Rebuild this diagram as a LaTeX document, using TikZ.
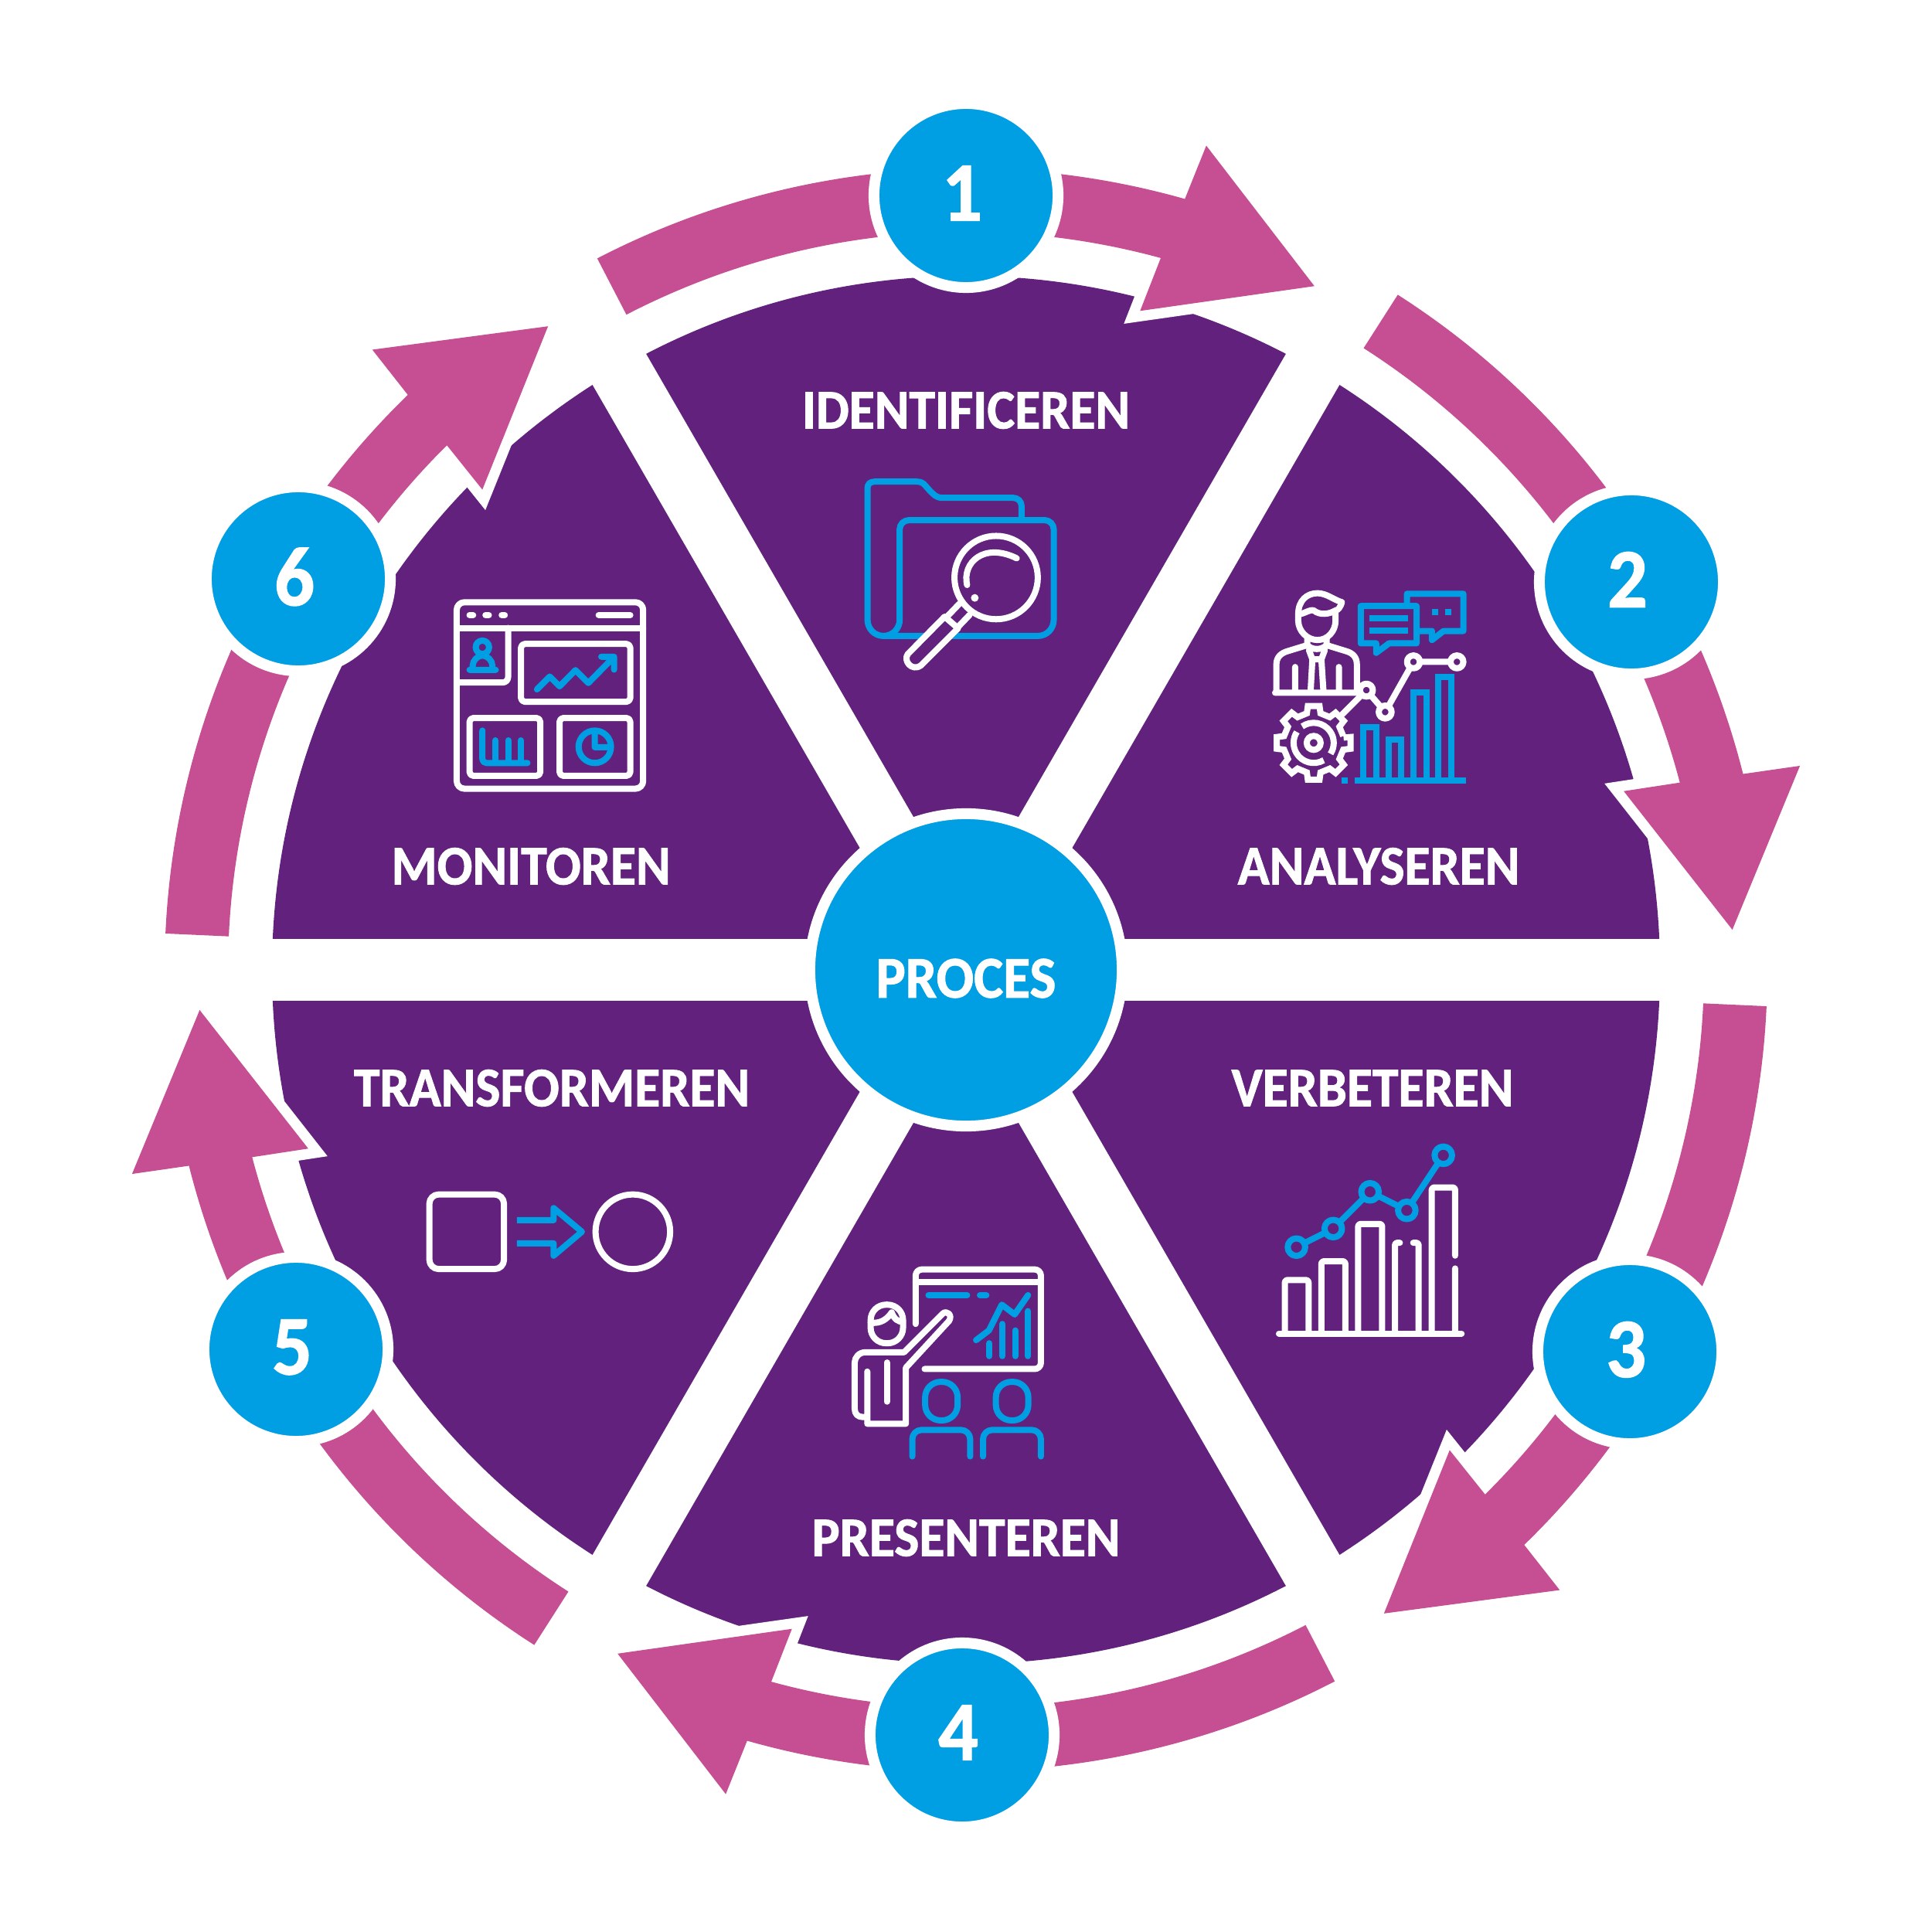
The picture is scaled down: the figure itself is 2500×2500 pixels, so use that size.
\documentclass[tikz,border=0pt]{standalone}
\usepackage{fontspec}
\setmainfont{Carlito}[BoldFeatures={FakeBold=1.3,FakeStretch=0.94}]
\usepackage{tikz}
\usetikzlibrary{calc}
\definecolor{ringpurple}{HTML}{61217C}
\definecolor{dotblue}{HTML}{009EE2}
\definecolor{arrowpink}{HTML}{C64F93}
\newcommand{\stepnum}[1]{\raisebox{1.7pt}{#1}\kern 2.8pt}
\tikzset{x=0.01cm, y=-0.01cm, font=\bfseries}
\tikzstyle{stepdot} = [draw=white, fill=dotblue, circle, line width=0.14cm, minimum size=2.38cm, inner sep=0pt, text=white, font=\fontsize{31}{31}\bfseries\selectfont]
\tikzstyle{hubdot} = [draw=white, fill=dotblue, circle, line width=0.14cm, minimum size=4.04cm, inner sep=0pt]
\tikzstyle{phase} = [text=white, inner sep=0pt, font=\fontsize{20.5}{20.5}\bfseries\selectfont]
\tikzstyle{band} = [white, line width=0.8cm]
\tikzstyle{bigarrow} = [draw=white, line width=0.27cm, miter limit=10, postaction={fill=arrowpink}]
\tikzstyle{zoomed} = [x=0.00333cm, y=-0.00333cm, line width=0.08cm, line cap=round, line join=round]
\tikzstyle{wline} = [draw=white]
\tikzstyle{bline} = [draw=dotblue]
\tikzstyle{knot} = [fill=ringpurple]
\begin{document}
\begin{tikzpicture}
    \useasboundingbox (0,0) rectangle (2500,2500);
    \fill [white] (0,0) rectangle (2500,2500);
    \coordinate (mid) at (1250,1255);
    \fill [ringpurple] (mid) circle [radius=898];
    \foreach \a in {0,60,120} {
        \draw [band] ($(mid)+(\a:910)$) -- ($(mid)+(\a+180:910)$);
    }

    \foreach \a in {0,-60,...,-300} {
        \begin{scope}[shift={(mid)}, x=0.01cm, y=0.01cm, rotate=\a]
            \path [bigarrow] (117.4:1037) arc [start angle=117.4, end angle=74.15, radius=1037] -- (73.75:1111) -- (63:993) -- (75.2:882) -- (74.7:955) arc [start angle=74.7, end angle=117.4, radius=955] -- cycle;
        \end{scope}
    }

    \node [stepdot] (step1) at (1250,253) {\stepnum{1}};
    \node [stepdot] (step2) at (2111,753) {\stepnum{2}};
    \node [stepdot] (step3) at (2109,1749) {\stepnum{3}};
    \node [stepdot] (step4) at (1245,2245) {\stepnum{4}};
    \node [stepdot] (step5) at (383,1746) {\stepnum{5}};
    \node [stepdot] (step6) at (386,749) {\stepnum{6}};
    \node [hubdot] (hub) at (mid) {};

    \node [phase, scale=1.06] (process) at (1250,1266) {PROCES};
    \node [phase] (identify) at (1250,531) {IDENTIFICEREN};
    \node [phase] (analyse) at (1784,1121) {ANALYSEREN};
    \node [phase] (improve) at (1776,1408) {VERBETEREN};
    \node [phase] (present) at (1250,1990) {PRESENTEREN};
    \node [phase] (transform) at (714,1408) {TRANSFORMEREN};
    \node [phase] (monitor) at (687,1121) {MONITOREN};

    % folder
    \begin{scope}[shift={(1060,560)}, zoomed]
        \draw [bline] (787,340) -- (787,285) .. controls (787,265) and (770,253) .. (755,253) -- (480,253) .. controls (455,253) and (445,240) .. (430,225) -- (415,208) .. controls (405,195) and (395,190) .. (380,190) -- (215,190) .. controls (198,190) and (188,200) .. (188,215) -- (188,727) .. controls (188,762) and (215,790) .. (250,790) -- (850,790) .. controls (885,790) and (912,762) .. (912,727) -- (912,375) .. controls (912,355) and (895,340) .. (878,340) -- (348,340) .. controls (330,340) and (313,355) .. (313,375) -- (313,727) .. controls (313,762) and (285,790) .. (250,790);
        \draw [wline, knot] (488,715) -- (345,860) .. controls (325,885) and (360,930) .. (395,905) -- (540,760) -- cycle;
        \draw [wline] (545,665) -- (500,712) (585,708) -- (540,755);
        \draw [wline] (688,563) circle [radius=162];
        \draw [wline] (575,592) .. controls (555,505) and (640,425) .. (768,488);
        \fill [white] (605,642) circle [radius=15];
    \end{scope}

    % analyst
    \begin{scope}[shift={(1620,720)}, zoomed]
        \draw [wline] (180,225) -- (180,250) .. controls (180,290) and (215,325) .. (255,325) .. controls (295,325) and (325,290) .. (325,250) -- (325,210) .. controls (335,210) and (345,195) .. (350,178) .. controls (320,170) and (290,143) .. (255,143) .. controls (215,143) and (180,170) .. (180,225) .. controls (200,225) and (225,205) .. (240,210) .. controls (265,230) and (300,225) .. (325,210);
        \draw [wline] (95,530) -- (95,420) .. controls (95,390) and (115,375) .. (140,368) -- (215,345) -- (215,315) (408,530) -- (408,420) .. controls (408,390) and (390,375) .. (365,368) -- (290,345) -- (290,315) (215,345) .. controls (235,365) and (270,365) .. (290,345) (90,530) -- (420,530) (168,430) -- (168,525) (338,430) -- (338,525) (222,365) -- (235,400) -- (228,525) (283,365) -- (270,400) -- (278,525) (235,400) -- (270,400);
        \draw [wline] (350,615) -- (445,520) -- (518,605) -- (628,410) -- (797,410);
        \foreach \p in {(445,520),(518,605),(628,410),(797,410)} {
            \draw [wline, knot] \p circle [radius=25];
        }
        \begin{scope}[shift={(240,725)}, line cap=butt, line join=miter]
            \draw [wline] (-10:118) \foreach \t in {0,45,...,315} { -- (\t-9:145) -- (\t+9:145) -- (\t+13:118) -- (\t+32:118) };
            \draw [wline] (-125:78) arc [start angle=-125, end angle=33, radius=78];
            \draw [wline] (60:78) arc [start angle=60, end angle=213, radius=78];
            \draw [wline] (0,0) circle [radius=27];
        \end{scope}
        \begin{scope}[line cap=butt, line join=miter]
            \draw [bline, line join=round] (603,185) -- (603,145) -- (822,145) -- (822,290) -- (745,290) -- (700,325) -- (700,290) -- (645,290);
            \draw [bline, line join=round] (423,193) -- (640,193) -- (640,338) -- (533,338) -- (483,375) -- (483,338) -- (423,338) -- cycle;
            \draw [bline] (458,241) -- (606,241) (458,289) -- (606,289) (700,217) -- (724,217) (750,217) -- (774,217);
            \draw [bline] (400,870) -- (833,870) (349,870) -- (374,870);
            \draw [bline] (434,870) -- (434,664) -- (484,664) -- (484,870) (531,870) -- (531,712) -- (581,712) -- (581,870) (628,870) -- (628,530) -- (678,530) -- (678,870) (724,870) -- (724,470) -- (774,470) -- (774,870);
        \end{scope}
    \end{scope}

    % dashboard
    \begin{scope}[shift={(560,750)}, zoomed]
        \draw [wline, rounded corners=0.1cm] (93,88) rectangle (818,813);
        \draw [wline] (93,188) -- (818,188) (143,138) -- (157,138) (205,138) -- (218,138) (268,138) -- (280,138) (645,138) -- (768,138);
        \draw [wline, rounded corners=0.07cm] (293,188) -- (293,400) -- (93,400);
        \draw [wline, rounded corners=0.05cm] (343,250) rectangle (768,475) (143,538) rectangle (418,763) (493,538) rectangle (768,763);
        \draw [bline] (193,263) circle [radius=26] (155,350) -- (155,335) .. controls (155,315) and (175,295) .. (193,295) .. controls (212,295) and (232,315) .. (232,335) -- (232,350) (143,351) -- (245,351);
        \draw [bline] (405,427) -- (455,377) -- (493,415) -- (555,352) -- (605,402) -- (705,300) (655,300) -- (705,300) -- (705,350);
        \draw [bline, rounded corners=0.05cm] (193,587) -- (193,713) -- (368,713);
        \draw [bline] (243,625) -- (243,700) (293,625) -- (293,700) (343,625) -- (343,700);
        \draw [bline] (630,650) circle [radius=63] (630,590) -- (630,652) -- (690,652);
    \end{scope}

    % presenter
    \begin{scope}[shift={(1080,1620)}, zoomed]
        \draw [wline, rounded corners=0.08cm] (315,280) -- (315,68) -- (802,68) -- (802,455) -- (350,455);
        \draw [wline] (315,118) -- (802,118);
        \draw [bline] (365,168) -- (515,168) (565,168) -- (590,168);
        \draw [bline] (550,343) -- (600,305) -- (650,205) -- (700,243) -- (752,168);
        \draw [bline] (602,355) -- (602,405) (652,280) -- (652,405) (702,305) -- (702,405) (752,230) -- (752,405);
        \draw [wline, rounded corners=0.2cm] (140,205) rectangle (266,355);
        \draw [wline] (140,275) .. controls (180,280) and (205,260) .. (222,235) .. controls (230,260) and (250,275) .. (265,270);
        \draw [wline] (420,240) -- (270,390) -- (120,390) .. controls (95,390) and (78,410) .. (78,430) -- (78,610) .. controls (78,630) and (90,642) .. (110,642) -- (127,642) (127,465) -- (127,668) -- (277,668) -- (277,450) -- (445,268) .. controls (460,245) and (435,225) .. (420,240);
        \draw [wline] (203,430) -- (203,582);
        \draw [bline, rounded corners=0.2cm] (352,505) rectangle (478,655) (627,505) rectangle (753,655);
        \draw [bline, rounded corners=0.12cm] (302,795) -- (302,692) -- (527,692) -- (527,795);
        \draw [bline, rounded corners=0.12cm] (577,795) -- (577,692) -- (802,692) -- (802,795);
    \end{scope}

    % bars
    \begin{scope}[shift={(1630,1460)}, zoomed]
        \draw [wline] (75,798) -- (785,798);
        \draw [wline, rounded corners=0.03cm] (98,798) -- (98,590) -- (190,590) -- (190,798) (240,798) -- (240,517) -- (333,517) -- (333,798) (383,798) -- (383,372) -- (476,372) -- (476,798) (526,798) -- (526,445) -- (545,445) (597,445) -- (618,445) -- (618,798) (669,798) -- (669,230) -- (760,230) -- (760,495) (760,545) -- (760,798);
        \draw [bline] (143,462) -- (286,390) -- (429,247) -- (572,319) -- (714,105);
        \foreach \p in {(143,462),(286,390),(429,247),(572,319),(714,105)} {
            \draw [bline, knot] \p circle [radius=34];
        }
    \end{scope}

    % square to circle
    \begin{scope}[shift={(530,1510)}, zoomed]
        \draw [wline, rounded corners=0.12cm] (77,107) rectangle (367,397);
        \draw [wline] (868,252) circle [radius=145];
        \draw [bline, line cap=butt] (417,207) -- (560,207) -- (560,160) -- (670,252) -- (560,345) -- (560,297) -- (417,297);
    \end{scope}
\end{tikzpicture}
\end{document}
